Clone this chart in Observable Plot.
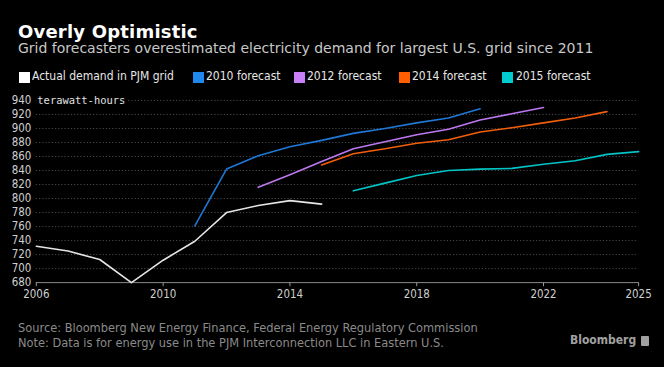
<!DOCTYPE html>
<html>
<head>
<meta charset="utf-8">
<script src="https://cdn.jsdelivr.net/npm/d3@7"></script>
<script src="https://cdn.jsdelivr.net/npm/@observablehq/plot@0.6"></script>
<style>
  html, body { margin: 0; padding: 0; background: #ffffff; }
  #card { position: absolute; left: 0; top: 0; width: 664px; height: 367px; background: #000; overflow: hidden;
          font-family: "DejaVu Sans Condensed", "DejaVu Sans", sans-serif; }
  .abs { position: absolute; white-space: nowrap; }
  #title { left: 18px; top: 20.5px; font-size: 18px; font-weight: bold; color: #fff; font-family: "DejaVu Sans", sans-serif; letter-spacing: 0.2px; }
  #subtitle { left: 18px; top: 40px; font-size: 14px; color: #c8c8c8; font-family: "DejaVu Sans", sans-serif; }
  .sw { position: absolute; top: 72px; width: 11px; height: 11px; }
  .lt { position: absolute; top: 69px; font-size: 12px; color: #e6e6e6; white-space: nowrap; }
  #chart { position: absolute; left: 0; top: 88px; }
  .foot { left: 18px; font-size: 12.7px; color: #8a8a8a; }
  #logo { left: 570px; top: 333px; font-size: 12px; font-weight: bold; color: #a0a0a0; font-family: "DejaVu Sans Condensed", sans-serif; }
  #logoicon { position: absolute; left: 641px; top: 336px; width: 8px; height: 10px; background: #a0a0a0; border-radius: 1px; }
</style>
</head>
<body>
<div id="card">
  <div id="title" class="abs">Overly Optimistic</div>
  <div id="subtitle" class="abs">Grid forecasters overestimated electricity demand for largest U.S. grid since 2011</div>
  <div id="legend"></div>
  <div id="chart"></div>
  <div class="abs foot" style="top:320px">Source: Bloomberg New Energy Finance, Federal Energy Regulatory Commission</div>
  <div class="abs foot" style="top:335px">Note: Data is for energy use in the PJM Interconnection LLC in Eastern U.S.</div>
  <div id="logo" class="abs">Bloomberg</div>
  <div id="logoicon"></div>
</div>
<script>
// ---- Data ----
const seriesNames = ["Actual demand in PJM grid", "2010 forecast", "2012 forecast", "2014 forecast", "2015 forecast"];
const seriesColors = ["#e6e6e6", "#1f78d6", "#bd78f0", "#f25f0c", "#00c4c6"];
const legendColors = ["#ffffff", "#2088ec", "#c97ff7", "#ff5f00", "#00ccd0"];

const actualYears = [2006, 2007, 2008, 2009, 2010, 2011, 2012, 2013, 2014, 2015];
const actualValues = [732, 725, 713, 680, 712, 739, 780, 790, 797, 792];

const f2010Years = [2011, 2012, 2013, 2014, 2015, 2016, 2017, 2018, 2019, 2020];
const f2010Values = [761, 842, 861, 874, 883, 893, 900, 908, 915, 928];

const f2012Years = [2013, 2014, 2015, 2016, 2017, 2018, 2019, 2020, 2021, 2022];
const f2012Values = [816, 834, 853, 871, 881, 891, 899, 912, 921, 930];

const f2014Years = [2015, 2016, 2017, 2018, 2019, 2020, 2021, 2022, 2023, 2024];
const f2014Values = [848, 864, 871, 879, 884, 895, 901, 908, 915, 924];

const f2015Years = [2016, 2017, 2018, 2019, 2020, 2021, 2022, 2023, 2024, 2025];
const f2015Values = [811, 822, 833, 840, 842, 843, 849, 854, 863, 867];

const xTicks = [2006, 2010, 2014, 2018, 2022, 2025];
const yTicks = [680, 700, 720, 740, 760, 780, 800, 820, 840, 860, 880, 900, 920, 940];
const yUnit = "terawatt-hours";

// ---- Build table ----
const allYears = [actualYears, f2010Years, f2012Years, f2014Years, f2015Years];
const allValues = [actualValues, f2010Values, f2012Values, f2014Values, f2015Values];
const rows = [];
allYears.forEach((ys, i) => ys.forEach((y, j) => rows.push({series: seriesNames[i], year: y, value: allValues[i][j]})));

// ---- Legend ----
const legendPos = [[19, 32], [193, 206], [294, 307], [399, 412], [502, 516]];
const legend = document.getElementById("legend");
seriesNames.forEach((n, i) => {
  const s = document.createElement("div");
  s.className = "sw"; s.style.left = legendPos[i][0] + "px"; s.style.background = legendColors[i];
  legend.appendChild(s);
  const t = document.createElement("div");
  t.className = "lt"; t.style.left = legendPos[i][1] + "px"; t.textContent = n;
  legend.appendChild(t);
});

// ---- Chart ----
const chart = Plot.plot({
  width: 667,
  height: 225,
  marginTop: 12,
  marginBottom: 30,
  marginLeft: 36,
  marginRight: 26,
  style: {background: "transparent", color: "#cccccc", fontFamily: "'DejaVu Sans Condensed', 'DejaVu Sans', sans-serif", fontSize: "11.5px"},
  x: {domain: [2006, 2025], ticks: xTicks, tickFormat: d => String(d), label: null},
  y: {domain: [680, 940], ticks: yTicks, label: null},
  color: {domain: seriesNames, range: seriesColors},
  marks: [
    Plot.ruleY(yTicks.filter(v => v > 680), {stroke: "#4a4a4a", strokeDasharray: "1.2,2", strokeWidth: 1}),
    Plot.axisY({ticks: yTicks, tickSize: 0, tickPadding: 5, label: null, fill: "#cfcfcf", fontSize: 11.5}),
    Plot.axisX({ticks: xTicks, tickFormat: d => String(d), tickSize: 4, tickPadding: 3, label: null, stroke: "#9a9a9a", fill: "#cfcfcf", fontSize: 11.5}),
    Plot.ruleY([680], {stroke: "#8a8a8a", strokeWidth: 1}),
    Plot.line(rows, {x: "year", y: "value", z: "series", stroke: "series", strokeWidth: 1.6}),
    Plot.text([yUnit], {frameAnchor: "left", y: 940, text: d => d, textAnchor: "start", dx: 1,
      fill: "#e0e0e0", stroke: "#000", strokeWidth: 5, paintOrder: "stroke",
      fontFamily: "'DejaVu Sans Mono', monospace", fontSize: 10.5})
  ]
});
document.getElementById("chart").appendChild(chart);
</script>
</body>
</html>
